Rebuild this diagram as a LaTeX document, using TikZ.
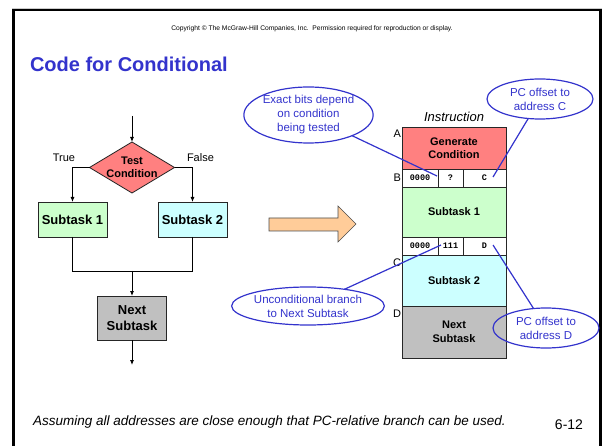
\documentclass[tikz,border=0pt]{standalone}
\usepackage{fontspec}
\setmainfont{Liberation Sans}
\newfontfamily\cellfont{Liberation Mono}
\usetikzlibrary{shapes.geometric,arrows.meta}
\definecolor{salmon}{HTML}{FF8080}
\definecolor{lgreen}{HTML}{CCFFCC}
\definecolor{lcyan}{HTML}{CCFFFF}
\definecolor{lgray}{HTML}{C0C0C0}
\definecolor{lorange}{HTML}{FFCC99}
\definecolor{tblue}{HTML}{3333CC}
\begin{document}
\begin{tikzpicture}[x=1pt,y=-1pt,
  every node/.style={inner sep=0pt,outer sep=0pt},
  fsbox/.style={draw=black!85,line width=0.8pt,align=center,font=\bfseries\fontsize{13}{15}\selectfont},
  ibox/.style={draw=black!85,line width=0.8pt,align=center,minimum width=104pt,font=\bfseries\fontsize{11}{13.5}\selectfont},
  cellbox/.style={draw=black!85,line width=0.8pt,minimum height=18pt,font=\cellfont\bfseries\fontsize{8.5}{10}\selectfont},
  lbl/.style={font=\fontsize{11}{13}\selectfont},
  arr/.style={line width=0.8pt,-{Latex[length=5pt,width=4pt]}},
  flow/.style={line width=0.8pt},
  callout/.style={ellipse,draw=tblue,line width=1.2pt,text=tblue,align=center,font=\fontsize{11.5}{14}\selectfont},
  callline/.style={draw=tblue,line width=1.2pt}]
\useasboundingbox (0,0) rectangle (602,446);
% frame
\draw[gray!40,line width=1pt] (12,8.5) -- (602,8.5);
\draw[black,line width=2.2pt] (13.5,446) -- (13.5,10) -- (600.5,10) -- (600.5,446);
% header
\node (copy) at (312,29) {\fontsize{6.7}{8}\selectfont Copyright \textcopyright{} The McGraw-Hill Companies, Inc.\ \ Permission required for reproduction or display.};
\node[anchor=west,text=tblue,font=\bfseries\fontsize{20}{24}\selectfont] (title) at (30,64) {Code for Conditional};
% flowchart
\coordinate (in) at (132,116);
\node[diamond,draw=black!85,line width=0.8pt,fill=salmon,minimum width=85pt,minimum height=51pt] (test) at (132,167.5) {};
\node[align=center,font=\bfseries\fontsize{11}{12.5}\selectfont] (testlbl) at (132,167.5) {Test\\Condition};
\node[lbl,anchor=east] (true) at (75,158) {True};
\node[lbl,anchor=west] (false) at (187,158) {False};
\node[fsbox,fill=lgreen,minimum width=69pt,minimum height=35pt] (sub1) at (72.5,219.5) {Subtask 1};
\node[fsbox,fill=lcyan,minimum width=69pt,minimum height=35pt] (sub2) at (192.5,219.5) {Subtask 2};
\coordinate (join) at (132,271);
\node[fsbox,fill=lgray,minimum width=69pt,minimum height=44pt,font=\bfseries\fontsize{13}{16}\selectfont] (next) at (132,318) {Next\\Subtask};
\coordinate (out) at (132,365);
\draw[arr] (in) -- (test.north);
\draw[arr] (test.west) -| (sub1.north);
\draw[arr] (test.east) -| (sub2.north);
\draw[flow] (sub1.south) |- (join);
\draw[flow] (sub2.south) |- (join);
\draw[arr] (join) -- (next.north);
\draw[arr] (next.south) -- (out);
% big arrow
\draw[black!70,line width=0.6pt,fill=lorange] (269,218) -- (338,218) -- (338,206) -- (356,224) -- (338,242) -- (338,231) -- (269,231) -- cycle;
% instruction column
\node[font=\itshape\fontsize{13}{15}\selectfont] (instr) at (454,117) {Instruction};
\node[ibox,fill=salmon,minimum height=42pt] (gen) at (454,148) {Generate\\Condition};
\node[cellbox,minimum width=36pt] (b1) at (420,178) {0000};
\node[cellbox,minimum width=25pt] (b2) at (450.5,178) {?};
\node[cellbox,minimum width=43pt] (b3) at (484.5,178) {C};
\node[ibox,fill=lgreen,minimum height=50pt] (s1i) at (454,212) {Subtask 1};
\node[cellbox,minimum width=36pt] (r1) at (420,246) {0000};
\node[cellbox,minimum width=25pt] (r2) at (450.5,246) {111};
\node[cellbox,minimum width=43pt] (r3) at (484.5,246) {D};
\node[ibox,fill=lcyan,minimum height=51pt] (s2i) at (454,280.5) {Subtask 2};
\node[ibox,fill=lgray,minimum height=52pt] (ni) at (454,332) {Next\\Subtask};
\node[lbl,anchor=east] (la) at (401,134) {A};
\node[lbl,anchor=east] (lb) at (401,178) {B};
\node[lbl,anchor=east] (lc) at (401,263) {C};
\node[lbl,anchor=east] (ld) at (401,314) {D};
% callouts
\node[callout,minimum width=129pt,minimum height=56pt] (c1) at (308.5,115) {Exact bits depend\\on condition\\being tested};
\node[callout,minimum width=106pt,minimum height=40pt] (c2) at (540,99) {PC offset to\\address C};
\node[callout,minimum width=130pt,minimum height=38pt] (c3) at (308,306) {Unconditional branch\\to Next Subtask};
\node[callout,minimum width=106pt,minimum height=40pt] (c4) at (546,328) {PC offset to\\address D};
\coordinate (q1) at (437,176);
\coordinate (q2) at (493,177);
\coordinate (q3) at (441,245);
\coordinate (q4) at (493,245);
\draw[callline] (c1) -- (q1);
\draw[callline] (c2) -- (q2);
\draw[callline] (c3) -- (q3);
\draw[callline] (c4) -- (q4);
% footer
\node[anchor=west,font=\itshape\fontsize{13.5}{15}\selectfont] (foot) at (33,422) {Assuming all addresses are close enough that PC-relative branch can be used.};
\node[font=\fontsize{14}{16}\selectfont] (pg) at (569,425) {6-12};
\end{tikzpicture}
\end{document}
